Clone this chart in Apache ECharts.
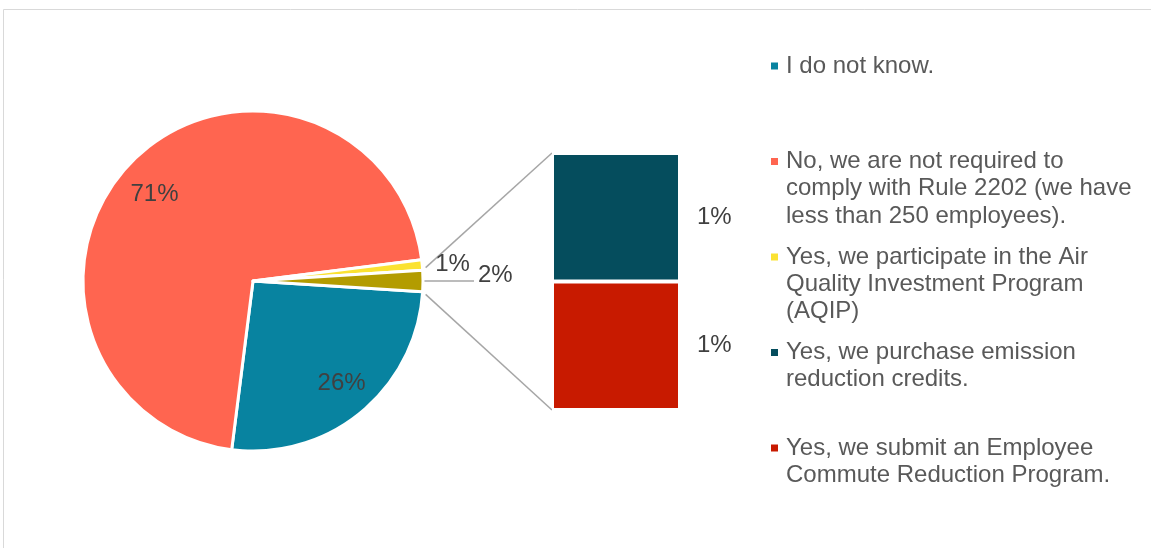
<!DOCTYPE html>
<html>
<head>
<meta charset="utf-8">
<script src="https://cdn.jsdelivr.net/npm/echarts@6/dist/echarts.min.js"></script>
<style>
html,body{margin:0;padding:0;background:#fff;}
#chart{width:1151px;height:548px;}
</style>
</head>
<body>
<div id="chart"></div>
<script>
// ---- data ----
const categories = [
  'I do not know.',
  'No, we are not required to\ncomply with Rule 2202 (we have\nless than 250 employees).',
  'Yes, we participate in the Air\nQuality Investment Program\n(AQIP)',
  'Yes, we purchase emission\nreduction credits.',
  'Yes, we submit an Employee\nCommute Reduction Program.'
];
const shares = [26, 71, 1, 1, 1];
const colors = ['#0883A0', '#FF6550', '#FBE232', '#054D5D', '#C81A00'];
const otherName = 'Other';
const otherColor = '#B39C00';
const splitCount = 2; // last categories shown in the bar

// ---- build ----
const FONT = "'Liberation Sans', Arial, sans-serif";
const pieCount = categories.length - splitCount;
const otherValue = shares.slice(pieCount).reduce((a, b) => a + b, 0);
const pieData = categories.slice(0, pieCount).map((n, i) => ({ name: n, value: shares[i], itemStyle: { color: colors[i] } }));
pieData.push({ name: otherName, value: otherValue, itemStyle: { color: otherColor } });

const CX = 253, CY = 281, R = 170;
const startAngle = 360 - (otherValue / shares.reduce((a, b) => a + b, 0)) * 180;

const pieLabelColor = '#404040';
const richText = { a: { fontSize: 24, lineHeight: 26, color: pieLabelColor, fontFamily: FONT } };

const mainData = pieData.map((d, i) => {
  const o = Object.assign({}, d);
  if (i < 2) {
    o.label = { show: false };
    o.labelLine = { show: false };
  } else if (i === 2) {
    o.label = { show: true, position: 'outside', distanceToLabelLine: 3 };
    o.labelLine = { show: false, length: 10, length2: 0 };
  } else {
    o.label = {
      show: true, position: 'outside', distanceToLabelLine: 4,
      formatter: '{a|{c}%}\n{b|}',
      rich: Object.assign({ b: { height: 12, lineHeight: 12 } }, richText)
    };
    o.labelLine = { show: true, length: 10, length2: 41, lineStyle: { color: '#A6A6A6', width: 1.5 } };
  }
  return o;
});

// inside labels for the two big slices (slight Excel best-fit nudges)
const overlayLabels = [
  { show: true, formatter: '{a|{c}%}\n{b|}', padding: [0, 0, 0, 5], rich: Object.assign({ b: { height: 4, lineHeight: 4 } }, richText) },
  { show: true, formatter: '{b|}\n{a|{c}%}', padding: [0, 6, 0, 0], rich: Object.assign({ b: { height: 18, lineHeight: 18 } }, richText) }
];
const overlayData = pieData.map((d, i) => ({
  name: d.name, value: d.value,
  label: i < 2 ? overlayLabels[i] : { show: false }
}));

// stacked bar: bottom first
const barSeries = [];
for (let k = categories.length - 1; k >= pieCount; k--) {
  barSeries.push({
    type: 'bar', name: categories[k], stack: 'other',
    xAxisIndex: 0, yAxisIndex: 0,
    barWidth: '100%',
    data: [shares[k]],
    itemStyle: { color: colors[k], borderColor: '#fff', borderWidth: 2 },
    label: { show: true, position: 'right', distance: 17, formatter: '{c}%', fontSize: 24, fontFamily: FONT, color: pieLabelColor },
    silent: true
  });
}

// legend graphic
const legendGraphic = [];
categories.forEach((n, i) => {
  const cy = 66 + i * 95.5;
  legendGraphic.push({ type: 'rect', shape: { x: 771, y: cy - 3.5, width: 7, height: 7 }, style: { fill: colors[i] }, silent: true });
  legendGraphic.push({ type: 'text', x: 786, y: cy - 13.65, style: { text: n, fill: '#595959', font: "24px " + FONT, lineHeight: 27.3, verticalAlign: 'top' }, silent: true });
});

const chart = echarts.init(document.getElementById('chart'), null, { renderer: 'canvas' });
chart.setOption({
  animation: false,
  backgroundColor: '#fff',
  textStyle: { fontFamily: FONT },
  grid: { left: 552, top: 153, width: 128, height: 257 },
  xAxis: { type: 'category', data: ['Other'], show: false },
  yAxis: { type: 'value', min: 0, max: otherValue, show: false },
  series: [
    {
      type: 'pie', center: [CX, CY], radius: R, startAngle: startAngle, clockwise: true,
      avoidLabelOverlap: false, silent: true,
      itemStyle: { borderColor: '#fff', borderWidth: 3 },
      label: { formatter: '{c}%', fontSize: 24, fontFamily: FONT, color: pieLabelColor },
      data: mainData
    },
    {
      type: 'pie', center: [CX, CY], radius: [0, 264], startAngle: startAngle, clockwise: true,
      avoidLabelOverlap: false, silent: true, z: 3,
      itemStyle: { color: 'rgba(0,0,0,0)', borderWidth: 0 },
      label: { position: 'inside', fontSize: 24, fontFamily: FONT, color: pieLabelColor },
      labelLine: { show: false },
      data: overlayData
    }
  ].concat(barSeries),
  graphic: [
    { type: 'rect', id: 'frame', shape: { x: 3.5, y: 9.5, width: 1300, height: 700 }, style: { fill: 'none', stroke: '#D9D9D9', lineWidth: 1 }, silent: true, z: -10 }
  ].concat(legendGraphic)
});

// connector lines from the "Other" slice to the bar
try {
  const model = chart.getModel();
  const pieLayout = model.getSeriesByIndex(0).getData().getItemLayout(pieCount);
  const topBar = model.getSeriesByIndex(2 + splitCount - 1).getData().getItemLayout(0);
  const botBar = model.getSeriesByIndex(2).getData().getItemLayout(0);
  const a1 = pieLayout.startAngle, a2 = pieLayout.endAngle;
  const p1 = [pieLayout.cx + pieLayout.r * Math.cos(a1), pieLayout.cy + pieLayout.r * Math.sin(a1)];
  const p2 = [pieLayout.cx + pieLayout.r * Math.cos(a2), pieLayout.cy + pieLayout.r * Math.sin(a2)];
  const pTop = p1[1] < p2[1] ? p1 : p2;
  const pBot = p1[1] < p2[1] ? p2 : p1;
  const barTopY = Math.min(topBar.y, topBar.y + topBar.height);
  const barBotY = Math.max(botBar.y, botBar.y + botBar.height);
  const barX = Math.min(topBar.x, topBar.x + topBar.width);
  function seg(p, q, gap1, gap2) {
    const dx = q[0] - p[0], dy = q[1] - p[1];
    const L = Math.sqrt(dx * dx + dy * dy);
    return { x1: p[0] + dx / L * gap1, y1: p[1] + dy / L * gap1, x2: q[0] - dx / L * gap2, y2: q[1] - dy / L * gap2 };
  }
  chart.setOption({
    graphic: [
      { type: 'line', id: 'c1', shape: seg(pTop, [barX, barTopY], 4, 0), style: { stroke: '#A6A6A6', lineWidth: 1.5 }, silent: true },
      { type: 'line', id: 'c2', shape: seg(pBot, [barX, barBotY], 4, 0), style: { stroke: '#A6A6A6', lineWidth: 1.5 }, silent: true }
    ]
  });
} catch (e) { console.error(e); }
</script>
</body>
</html>
